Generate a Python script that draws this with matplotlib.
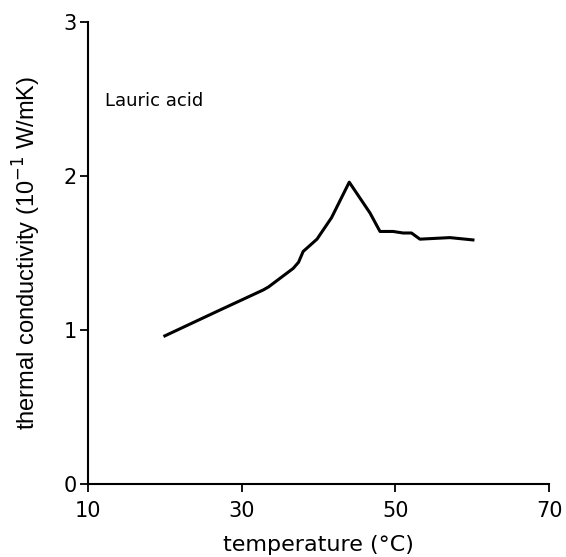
import matplotlib
matplotlib.use("Agg")
import matplotlib.pyplot as plt

temperature = [20.0, 26.75, 32.8, 33.5, 36.7, 37.4, 38.0, 39.8, 41.7, 44.0,
               46.7, 48.0, 49.7, 51.0, 52.1, 53.2, 57.1, 60.1]
conductivity = [0.962, 1.12, 1.26, 1.28, 1.40, 1.44, 1.51, 1.59, 1.73, 1.96,
                1.76, 1.64, 1.64, 1.63, 1.63, 1.59, 1.60, 1.585]
xticks = [10, 30, 50, 70]
yticks = [0, 1, 2, 3]

fig = plt.figure(figsize=(5.66, 5.57), dpi=100)
ax = fig.add_axes([0.1555, 0.131, 0.8145, 0.8295])
ax.plot(temperature, conductivity, color="black", lw=2.2, solid_joinstyle="round")
ax.set_xlim(10, 70)
ax.set_ylim(0, 3)
ax.set_xticks(xticks)
ax.set_yticks(yticks)
ax.spines["top"].set_visible(False)
ax.spines["right"].set_visible(False)
for s in ["left", "bottom"]:
    ax.spines[s].set_linewidth(1.5)
ax.tick_params(direction="out", length=6, width=1.3, labelsize=15, pad=2)
ax.tick_params(axis="x", pad=6)
ax.set_xlabel("temperature (°C)", fontsize=16, labelpad=10)
ax.set_ylabel("thermal conductivity (10$^{-1}$ W/mK)", fontsize=17,
              family="Liberation Sans", labelpad=15)
ax.text(12.2, 2.49, "Lauric acid", fontsize=13, va="center", ha="left")
fig.savefig("out.png", dpi=100)
